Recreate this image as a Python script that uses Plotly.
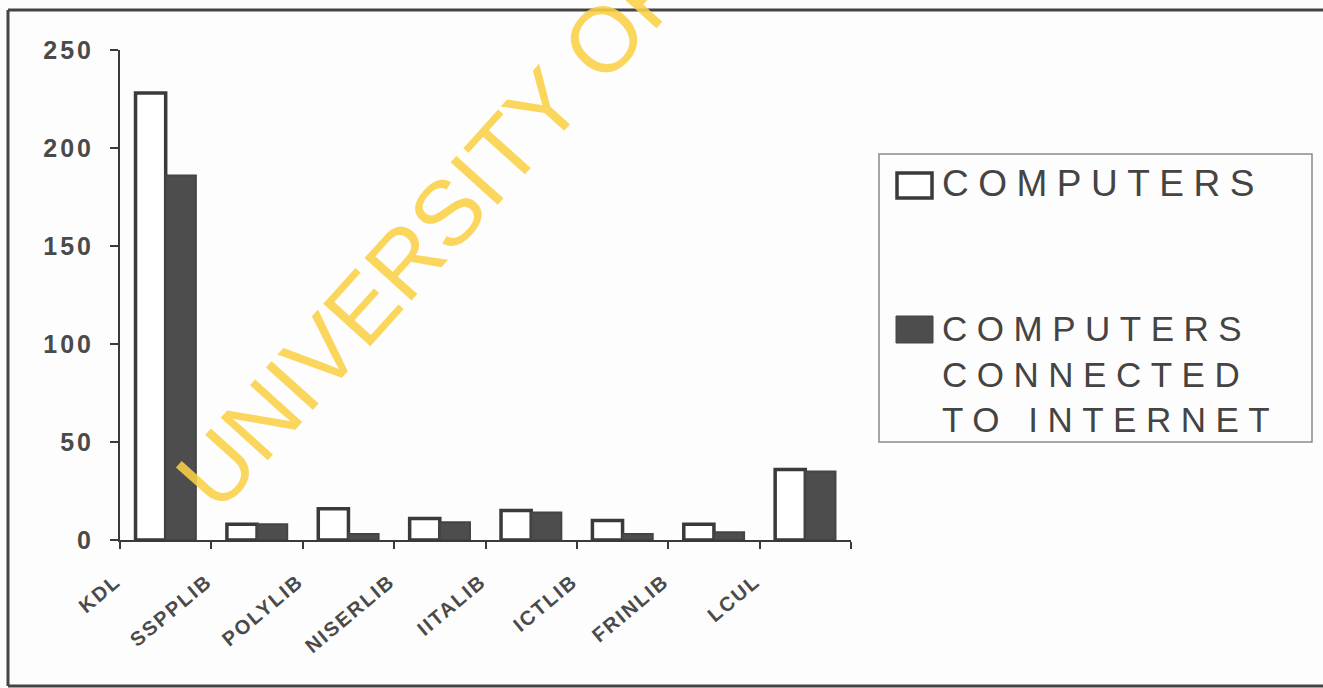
import plotly.graph_objects as go

# Library survey: total computers vs. computers with internet access
libraries = ["KDL", "SSPPLIB", "POLYLIB", "NISERLIB", "IITALIB", "ICTLIB", "FRINLIB", "LCUL"]
computers = [228, 8, 16, 11, 15, 10, 8, 36]
connected = [186, 8, 3, 9, 14, 3, 4, 35]

series_names = ["COMPUTERS", "COMPUTERS<br>CONNECTED<br>TO INTERNET"]
y_ticks = [0, 50, 100, 150, 200, 250]

W, H = 1323, 688
L, R, T, B = 120, 472, 50, 148
PW, PH = W - L - R, H - T - B


def px(x):
    return (x - L) / PW


def py(y):
    return (H - B - y) / PH


ink = "#3a3a3a"
tick_font = dict(family="Liberation Sans, Arial, sans-serif", color="#4a4a4a", weight="bold")

fig = go.Figure()
fig.add_trace(go.Bar(
    x=libraries, y=computers, name="COMPUTERS",
    marker=dict(color="#ffffff", line=dict(color=ink, width=3.5)),
    showlegend=False,
))
fig.add_trace(go.Bar(
    x=libraries, y=connected, name="COMPUTERS CONNECTED TO INTERNET",
    marker=dict(color="#4d4d4d", line=dict(color="#444444", width=2)),
    showlegend=False,
))

shapes = [
    # page frame
    dict(type="line", xref="paper", yref="paper", x0=px(8), x1=px(8), y0=py(10), y1=py(686),
         line=dict(color="#444", width=3)),
    dict(type="line", xref="paper", yref="paper", x0=px(8), x1=px(1330), y0=py(10), y1=py(10),
         line=dict(color="#444", width=3)),
    dict(type="line", xref="paper", yref="paper", x0=px(8), x1=px(1330), y0=py(686), y1=py(686),
         line=dict(color="#444", width=3)),
    # legend box and swatches
    dict(type="rect", xref="paper", yref="paper", x0=px(879), x1=px(1312), y0=py(154), y1=py(442),
         line=dict(color="#8a8a8a", width=1.5), fillcolor="rgba(0,0,0,0)"),
    dict(type="rect", xref="paper", yref="paper", x0=px(897), x1=px(932), y0=py(173), y1=py(198),
         line=dict(color=ink, width=3.5), fillcolor="#ffffff"),
    dict(type="rect", xref="paper", yref="paper", x0=px(896), x1=px(933), y0=py(316), y1=py(343),
         line=dict(color="#444", width=1), fillcolor="#4d4d4d"),
]

annotations = [
    dict(text="UNIVERSITY OF", xref="paper", yref="paper", x=px(430), y=py(232),
         xanchor="center", yanchor="middle", textangle=-48, showarrow=False,
         font=dict(family="Liberation Sans, Arial, sans-serif", size=92, color="rgba(250,208,70,0.88)")),
    dict(text=series_names[0], xref="paper", yref="paper", x=px(940), y=py(184),
         xanchor="left", yanchor="middle", align="left", showarrow=False,
         font=dict(family="Liberation Sans, Arial, sans-serif", size=37, color="#444444")),
    dict(text=series_names[1], xref="paper", yref="paper", x=px(940), y=py(374),
         xanchor="left", yanchor="middle", align="left", showarrow=False,
         font=dict(family="Liberation Sans, Arial, sans-serif", size=35, color="#444444")),
]

fig.update_layout(
    width=W, height=H,
    margin=dict(l=L, r=R, t=T, b=B, pad=0),
    paper_bgcolor="#fdfdfd", plot_bgcolor="#fdfdfd",
    barmode="group", bargap=0.34, bargroupgap=0,
    shapes=shapes, annotations=annotations,
    xaxis=dict(
        type="category", tickson="boundaries", ticks="outside", ticklen=7, tickwidth=1.5,
        tickcolor=ink, showline=True, linecolor=ink, linewidth=2, showgrid=False,
        tickangle=-40, ticklabelshift=-50, ticklabelstandoff=20,
        tickfont=dict(size=20, **tick_font),
    ),
    yaxis=dict(
        range=[0, 250], tickvals=y_ticks, ticks="outside", ticklen=8, tickwidth=1.5,
        tickcolor=ink, showline=True, linecolor=ink, linewidth=2, showgrid=False,
        zeroline=False, ticklabelstandoff=11,
        tickfont=dict(size=25, **tick_font),
    ),
)

spacing_js = """
var gd = document.getElementById('{plot_id}');
gd.querySelectorAll('g.annotation').forEach(function(a){
  if (a.getAttribute('data-index') !== '0') {
    a.querySelectorAll('text').forEach(function(t){ t.style.letterSpacing = '9.5px'; });
  }
});
gd.querySelectorAll('.ytick text').forEach(function(t){ t.style.letterSpacing = '3px'; });
gd.querySelectorAll('.xtick text').forEach(function(t){ t.style.letterSpacing = '2px'; });
"""

fig.write_html("out.html", post_script=spacing_js)
